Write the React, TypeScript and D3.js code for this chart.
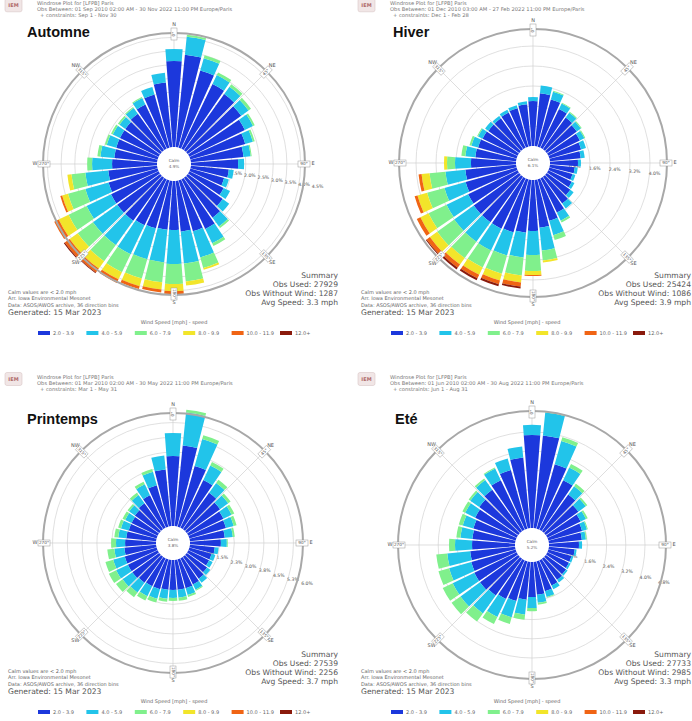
import React from "react";
import * as d3 from "d3";

// ---------- data ----------
const directions = [0, 10, 20, 30, 40, 50, 60, 70, 80, 90, 100, 110, 120, 130, 140, 150, 160, 170,
  180, 190, 200, 210, 220, 230, 240, 250, 260, 270, 280, 290, 300, 310, 320, 330, 340, 350];
const speedBins = ["2.0 - 3.9", "4.0 - 5.9", "6.0 - 7.9", "8.0 - 9.9", "10.0 - 11.9", "12.0+"];
const compassNames = ["N", "NE", "E", "SE", "S", "SW", "W", "NW"];
const compassDeg = [0, 45, 90, 135, 180, 225, 270, 315];

// percent frequency per direction, one array per speed bin
const automneB1 = [3.14,3.39,2.92,2.62,2.52,2.40,2.25,2.08,1.93, 1.72,1.39,1.28,1.39,1.57,1.79,2.01,1.93,1.86, 1.79,1.79,1.82,1.86,1.93,1.93,1.93,1.86,1.79, 1.64,1.57,1.57,1.57,1.57,1.64,1.79,2.01,2.37];
const automneB2 = [0.44,0.66,0.47,0.36,0.33,0.33,0.33,0.29,0.26, 0.22,0.18,0.18,0.26,0.29,0.40,0.58,0.99,1.17, 1.24,1.20,1.17,1.17,1.09,1.09,0.99,0.88,0.84, 0.73,0.51,0.36,0.29,0.26,0.26,0.26,0.29,0.36];
const automneB3 = [0,0.07,0.11,0.11,0.11,0.11,0.07,0.07,0.04, 0,0,0,0,0,0.07,0.11,0.40,0.66, 0.73,0.73,0.73,0.73,0.73,0.69,0.73,0.66,0.51, 0.18,0.11,0.07,0.07,0.07,0.04,0.04,0,0];
const automneB4 = [0,0,0,0,0,0,0,0,0, 0,0,0,0,0,0,0,0.07,0.15, 0.26,0.26,0.29,0.29,0.33,0.36,0.40,0.22,0.15, 0,0,0,0,0,0,0,0,0];
const automneB5 = [0,0,0,0,0,0,0,0,0, 0,0,0,0,0,0,0,0,0, 0.11,0.11,0.11,0.15,0.18,0.22,0.18,0.07,0, 0,0,0,0,0,0,0,0,0];
const automneB6 = [0,0,0,0,0,0,0,0,0, 0,0,0,0,0,0,0,0,0, 0,0,0,0,0.03,0.04,0,0,0, 0,0,0,0,0,0,0,0,0];

const hiverB1 = [1.80,2.12,1.96,1.72,1.56,1.48,1.40,1.32,1.24, 1.12,1.00,0.96,1.04,1.16,1.32,1.52,1.72,1.92, 2.04,2.12,2.20,2.24,2.24,2.24,2.20,2.12,2.04, 1.80,1.64,1.60,1.56,1.52,1.52,1.56,1.60,1.68];
const hiverB2 = [0.16,0.32,0.32,0.24,0.24,0.20,0.20,0.20,0.16, 0.12,0.12,0.12,0.12,0.16,0.24,0.36,0.60,0.92, 0.96,1.00,0.96,0.96,0.96,0.96,0.96,0.88,0.80, 0.64,0.40,0.28,0.20,0.16,0.12,0.12,0.12,0.12];
const hiverB3 = [0,0,0.04,0.04,0.04,0.04,0.04,0,0, 0,0,0,0,0,0,0.08,0.20,0.40, 0.64,0.72,0.76,0.76,0.80,0.84,0.80,0.72,0.64, 0.32,0.16,0.08,0.04,0,0,0,0,0];
const hiverB4 = [0,0,0,0,0,0,0,0,0, 0,0,0,0,0,0,0,0,0.08, 0.16,0.28,0.28,0.32,0.32,0.36,0.36,0.40,0.32, 0.12,0,0,0,0,0,0,0,0];
const hiverB5 = [0,0,0,0,0,0,0,0,0, 0,0,0,0,0,0,0,0,0, 0.04,0.16,0.16,0.16,0.16,0.16,0.16,0.12,0.12, 0,0,0,0,0,0,0,0,0];
const hiverB6 = [0,0,0,0,0,0,0,0,0, 0,0,0,0,0,0,0,0,0, 0,0.08,0.08,0.08,0.08,0.04,0,0,0, 0,0,0,0,0,0,0,0,0];

const printempsB1 = [3.55,4.11,3.20,2.69,2.28,2.08,1.98,1.93,1.78, 1.57,1.27,1.17,1.17,1.27,1.37,1.47,1.52,1.52, 1.52,1.52,1.57,1.57,1.62,1.68,1.68,1.68,1.62, 1.57,1.52,1.47,1.47,1.52,1.62,1.83,2.18,2.89];
const printempsB2 = [1.17,1.68,1.42,0.81,0.61,0.51,0.46,0.41,0.41, 0.30,0.20,0.20,0.20,0.20,0.25,0.30,0.36,0.41, 0.41,0.46,0.51,0.56,0.61,0.61,0.66,0.61,0.51, 0.46,0.41,0.41,0.36,0.36,0.51,0.61,0.71,0.71];
const printempsB3 = [0,0.15,0.20,0.20,0.20,0.15,0.15,0.15,0.10, 0.05,0,0,0,0,0,0.05,0.10,0.15, 0.15,0.15,0.20,0.25,0.30,0.41,0.41,0.41,0.36, 0.25,0.20,0.15,0.15,0.10,0.15,0.15,0.15,0];

const eteB1 = [3.88,3.88,2.79,2.29,1.88,1.67,1.54,1.46,1.38, 1.25,1.08,1.00,1.00,1.04,1.08,1.17,1.29,1.38, 1.46,1.58,1.71,1.79,1.88,1.96,1.96,1.92,1.88, 1.79,1.79,1.83,1.92,2.00,2.13,2.29,2.54,2.96];
const eteB2 = [0.42,0.96,1.00,0.58,0.42,0.38,0.25,0.21,0.17, 0.13,0.08,0.08,0.08,0.08,0.13,0.17,0.25,0.33, 0.46,0.63,0.71,0.83,0.92,1.00,1.00,0.96,0.96, 0.71,0.50,0.46,0.46,0.46,0.50,0.54,0.50,0.46];
const eteB3 = [0,0.04,0.17,0.17,0.13,0.08,0.08,0.04,0.04, 0,0,0,0,0,0,0,0.04,0.08, 0.13,0.21,0.29,0.33,0.42,0.46,0.46,0.46,0.46, 0.25,0.17,0.17,0.13,0.08,0.08,0.04,0,0];

const calmValues = ["4.9%", "6.1%", "3.8%", "5.2%"];

// ---------- styling / layout ----------
const binColors = ["#1c38dc", "#22c4ea", "#80f08c", "#f2e52a", "#f06414", "#8a1a0c"];
const SANS = "DejaVu Sans, Verdana, sans-serif";

type Panel = {
  title: string; titleX: number; titleY: number;
  ox: number; oy: number; hy: number;
  cx: number; cy: number; R: number; r0: number; k: number; step: number; nLabels: number; labelAngle: number;
  bins: number[][]; calm: string;
  header: string[]; notes: string[]; summary: string[];
};

const panels: Panel[] = [
  {
    title: "Automne", titleX: 27, titleY: 37, ox: 0, oy: 0, hy: 4.8,
    cx: 174, cy: 164, R: 131, r0: 17, k: 27.4, step: 0.5, nLabels: 9, labelAngle: 99,
    bins: [automneB1, automneB2, automneB3, automneB4, automneB5, automneB6], calm: calmValues[0],
    header: ["Windrose Plot for [LFPB] Paris", "Obs Between: 01 Sep 2010 02:00 AM - 30 Nov 2022 11:00 PM Europe/Paris", "+ constraints: Sep 1 - Nov 30"],
    notes: ["Calm values are < 2.0 mph", "Arr. Iowa Environmental Mesonet", "Data: ASOS/AWOS archive, 36 direction bins"],
    summary: ["Summary", "Obs Used: 27929", "Obs Without Wind: 1287", "Avg Speed: 3.3 mph"],
  },
  {
    title: "Hiver", titleX: 393, titleY: 37, ox: 353, oy: 0, hy: 4.8,
    cx: 533, cy: 163, R: 134, r0: 17, k: 25, step: 0.8, nLabels: 5, labelAngle: 95,
    bins: [hiverB1, hiverB2, hiverB3, hiverB4, hiverB5, hiverB6], calm: calmValues[1],
    header: ["Windrose Plot for [LFPB] Paris", "Obs Between: 01 Dec 2010 03:00 AM - 27 Feb 2022 11:00 PM Europe/Paris", "+ constraints: Dec 1 - Feb 28"],
    notes: ["Calm values are < 2.0 mph", "Arr. Iowa Environmental Mesonet", "Data: ASOS/AWOS archive, 36 direction bins"],
    summary: ["Summary", "Obs Used: 25424", "Obs Without Wind: 1086", "Avg Speed: 3.9 mph"],
  },
  {
    title: "Printemps", titleX: 27, titleY: 424, ox: 0, oy: 379, hy: 378.5,
    cx: 173, cy: 543, R: 130, r0: 17, k: 19.7, step: 0.75, nLabels: 8, labelAngle: 107,
    bins: [printempsB1, printempsB2, printempsB3], calm: calmValues[2],
    header: ["Windrose Plot for [LFPB] Paris", "Obs Between: 01 Mar 2010 02:00 AM - 30 May 2022 11:00 PM Europe/Paris", "+ constraints: Mar 1 - May 31"],
    notes: ["Calm values are < 2.0 mph", "Arr. Iowa Environmental Mesonet", "Data: ASOS/AWOS archive, 36 direction bins"],
    summary: ["Summary", "Obs Used: 27539", "Obs Without Wind: 2256", "Avg Speed: 3.7 mph"],
  },
  {
    title: "Eté", titleX: 395, titleY: 424, ox: 353, oy: 379, hy: 378.5,
    cx: 532, cy: 545, R: 134, r0: 17, k: 24, step: 0.8, nLabels: 6, labelAngle: 106,
    bins: [eteB1, eteB2, eteB3], calm: calmValues[3],
    header: ["Windrose Plot for [LFPB] Paris", "Obs Between: 01 Jun 2010 02:00 AM - 30 Aug 2022 11:00 PM Europe/Paris", "+ constraints: Jun 1 - Aug 31"],
    notes: ["Calm values are < 2.0 mph", "Arr. Iowa Environmental Mesonet", "Data: ASOS/AWOS archive, 36 direction bins"],
    summary: ["Summary", "Obs Used: 27733", "Obs Without Wind: 2985", "Avg Speed: 3.3 mph"],
  },
];

const rad = (deg: number) => (deg * Math.PI) / 180;

function Rose({ p }: { p: Panel }) {
  const rScale = d3.scaleLinear().domain([0, 1]).range([p.r0, p.r0 + p.k]);
  const arc = d3.arc<any>();
  const halfW = rad(4.3);
  const ringVals = d3.range(1, 40).map((i) => i * p.step).filter((v) => rScale(v) < p.R - 2);
  const labelVals = d3.range(1, p.nLabels + 1).map((i) => i * p.step);
  const la = rad(p.labelAngle);

  const bars: { d: string; fill: string; key: string }[] = [];
  directions.forEach((dir, j) => {
    let cum = 0;
    p.bins.forEach((arr, b) => {
      const v = arr[j] || 0;
      if (v <= 0) return;
      const d = arc({
        innerRadius: rScale(cum),
        outerRadius: rScale(cum + v),
        startAngle: rad(dir) - halfW,
        endAngle: rad(dir) + halfW,
      }) as string;
      bars.push({ d, fill: binColors[b], key: `${dir}-${b}` });
      cum += v;
    });
  });

  return (
    <g transform={`translate(${p.cx},${p.cy})`}>
      {ringVals.map((v) => (
        <circle key={v} r={rScale(v)} fill="none" stroke="#d8d8d8" strokeWidth={0.8} />
      ))}
      {compassDeg.map((d) => (
        <line key={d} x1={p.r0 * Math.sin(rad(d))} y1={-p.r0 * Math.cos(rad(d))}
          x2={p.R * Math.sin(rad(d))} y2={-p.R * Math.cos(rad(d))}
          stroke="#d0d0d0" strokeWidth={0.7} />
      ))}
      {labelVals.map((v) => {
        const rr = rScale(v) + 5;
        return (
          <text key={v} x={rr * Math.sin(la)} y={-rr * Math.cos(la)} fontSize={4.6} fill="#555"
            fontFamily={SANS} textAnchor="middle" dominantBaseline="middle">{v.toFixed(1)}%</text>
        );
      })}
      {bars.map((b) => (
        <path key={b.key} d={b.d} fill={b.fill} />
      ))}
      <circle r={p.R} fill="none" stroke="#a8a8a8" strokeWidth={2} />
      {compassDeg.map((d, i) => {
        const ro = p.R + 8;
        const ri = p.R - 1;
        let rot = d - 90;
        if (rot > 90) rot -= 180;
        const xi = ri * Math.sin(rad(d));
        const yi = -ri * Math.cos(rad(d));
        return (
          <g key={d}>
            <text x={ro * Math.sin(rad(d))} y={-ro * Math.cos(rad(d))} fontSize={5} fill="#555"
              fontFamily={SANS} textAnchor="middle" dominantBaseline="middle">{compassNames[i]}</text>
            <g transform={`translate(${xi},${yi}) rotate(${rot})`}>
              <rect x={-6} y={-3} width={12} height={6} fill="#fff" stroke="#999" strokeWidth={0.5} />
              <text x={0} y={0.3} fontSize={4.2} fill="#555" fontFamily={SANS} textAnchor="middle"
                dominantBaseline="middle">{d}°</text>
            </g>
          </g>
        );
      })}
      <circle r={p.r0 - 0.5} fill="#fff" />
      <text x={0} y={-2} fontSize={4.2} fill="#666" fontFamily={SANS} textAnchor="middle">Calm</text>
      <text x={0} y={4} fontSize={4.2} fill="#666" fontFamily={SANS} textAnchor="middle">{p.calm}</text>
    </g>
  );
}

function PanelText({ p }: { p: Panel }) {
  const { ox, oy } = p;
  const legendX = d3.scaleLinear().domain([0, 5]).range([ox + 38, ox + 280]);
  return (
    <g fontFamily={SANS}>
      <g>
        <rect x={ox + 5} y={p.hy - 6} width={17} height={13} rx={2} fill="#f1e6e6" stroke="#d9c6c6" strokeWidth={0.6} />
        <text x={ox + 13.5} y={p.hy + 2} fontSize={5} fill="#b06a6a" textAnchor="middle" fontWeight="bold">IEM</text>
      </g>
      {p.header.map((h, i) => (
        <text key={i} x={ox + (i === 2 ? 40 : 37)} y={p.hy + i * 6} fontSize={5.2} fill="#777">{h}</text>
      ))}
      <text x={p.titleX} y={p.titleY} fontSize={14.5} fontWeight="bold" fill="#111"
        fontFamily="Liberation Sans, Arial, sans-serif">{p.title}</text>
      {p.notes.map((n, i) => (
        <text key={i} x={ox + 8} y={oy + 294 + i * 6.3} fontSize={5} fill="#666">{n}</text>
      ))}
      <text x={ox + 8} y={oy + 314.5} fontSize={7.6} fill="#555">Generated: 15 Mar 2023</text>
      {p.summary.map((s, i) => (
        <text key={i} x={ox + 338} y={oy + 278 + i * 9} fontSize={7.6} fill="#555" textAnchor="end">{s}</text>
      ))}
      <text x={ox + 174} y={oy + 324} fontSize={5} fill="#666" textAnchor="middle">Wind Speed [mph] - speed</text>
      {speedBins.map((s, i) => (
        <g key={s}>
          <rect x={legendX(i)} y={oy + 331} width={12} height={4} fill={binColors[i]} />
          <text x={legendX(i) + 15} y={oy + 334.8} fontSize={5} fill="#666">{s}</text>
        </g>
      ))}
    </g>
  );
}

export default function App() {
  return (
    <svg width={692} height={721} style={{ position: "absolute", left: 0, top: 0, background: "#fff" }}>
      <rect width={692} height={721} fill="#fff" />
      {panels.map((p) => (
        <g key={p.title}>
          <Rose p={p} />
          <PanelText p={p} />
        </g>
      ))}
    </svg>
  );
}
